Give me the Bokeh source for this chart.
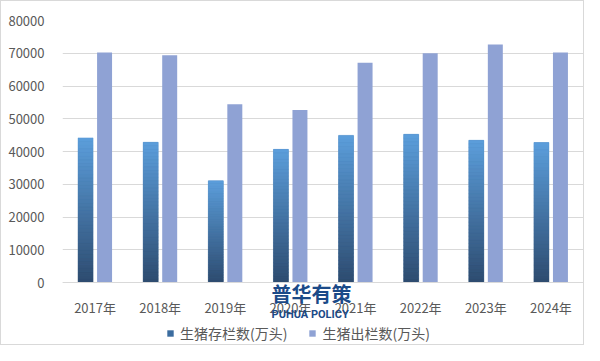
from bokeh.plotting import figure
from bokeh.models import (ColumnDataSource, Legend, LegendItem, Label, FactorRange, Range1d,
                          NumeralTickFormatter, FixedTicker)
from bokeh.transform import dodge
from bokeh.embed import file_html
from bokeh.resources import INLINE

years = ["2017年", "2018年", "2019年", "2020年", "2021年", "2022年", "2023年", "2024年"]
stock = [44159, 42817, 31041, 40650, 44922, 45256, 43422, 42743]      # 生猪存栏数(万头)
slaughter = [70202, 69382, 54419, 52704, 67128, 69995, 72662, 70256]  # 生猪出栏数(万头)
series_names = ["生猪存栏数(万头)", "生猪出栏数(万头)"]
y_ticks = [0, 10000, 20000, 30000, 40000, 50000, 60000, 70000, 80000]
watermark = ["普华有策", "PUHUA POLICY"]

FONT = "Noto Sans CJK SC"
TXT = "#595959"
GRID = "#d9d9d9"
TOP_C = (91, 157, 218)
BOT_C = (46, 76, 112)
LAV = "#8fa2d4"
WM_C = "#1b4a88"

W_PX, H_PX = 584, 345
TOP_B, LEFT_B, RIGHT_B = 19, 61, 2
plot_h = H_PX - TOP_B            # frame extends to canvas bottom
zero_px = 281 - TOP_B            # pixel distance from frame top to zero line
ymax = 80000
ymin = -ymax * (plot_h - zero_px) / zero_px

p = figure(width=W_PX, height=H_PX, x_range=FactorRange(*years), y_range=Range1d(ymin, ymax),
           output_backend="svg", toolbar_location=None,
           min_border_left=LEFT_B, min_border_right=RIGHT_B, min_border_top=TOP_B, min_border_bottom=0)
p.styles = {"border": "1px solid #d9d9d9"}
p.outline_line_color = None
p.background_fill_color = "white"
p.border_fill_color = "white"

W = 0.23
OFF = 0.146

src = ColumnDataSource(dict(x=years, stock=stock, slaughter=slaughter))
r_stock = p.vbar(x=dodge("x", -OFF, range=p.x_range), top="stock", width=W, source=src,
                 fill_color="#3b6c9f", line_color=None)

# gradient slices for the stock bars
N = 40
xs, bots, tops, cols = [], [], [], []
for i in range(N):
    t = i / (N - 1)
    c = tuple(int(round(BOT_C[k] + (TOP_C[k] - BOT_C[k]) * t)) for k in range(3))
    hexc = "#%02x%02x%02x" % c
    for y, v in zip(years, stock):
        xs.append(y)
        bots.append(v * i / N)
        tops.append(v * (i + 1) / N)
        cols.append(hexc)
gsrc = ColumnDataSource(dict(x=xs, bottom=bots, top=tops, color=cols))
p.vbar(x=dodge("x", -OFF, range=p.x_range), bottom="bottom", top="top", width=W,
       source=gsrc, fill_color="color", line_color="color", line_width=0.5)

r_sl = p.vbar(x=dodge("x", OFF, range=p.x_range), top="slaughter", width=W, source=src,
              fill_color=LAV, line_color=None)

# axes
p.yaxis.ticker = FixedTicker(ticks=y_ticks)
p.yaxis.formatter = NumeralTickFormatter(format="0")
p.yaxis.axis_line_color = None
p.yaxis.major_tick_line_color = None
p.yaxis.minor_tick_line_color = None
p.yaxis.major_label_standoff = 12
p.yaxis.major_label_text_font = FONT
p.yaxis.major_label_text_font_size = "13px"
p.yaxis.major_label_text_color = TXT

p.xaxis.fixed_location = 0
p.xaxis.axis_line_color = GRID
p.xaxis.major_tick_line_color = None
p.xaxis.minor_tick_line_color = None
p.xaxis.major_label_standoff = 9
p.xaxis.major_label_text_font = FONT
p.xaxis.major_label_text_font_size = "13px"
p.xaxis.major_label_text_color = TXT

p.xgrid.grid_line_color = None
p.ygrid.ticker = FixedTicker(ticks=y_ticks)
p.ygrid.grid_line_color = GRID
p.ygrid.grid_line_width = 1

legend = Legend(items=[LegendItem(label=series_names[0], renderers=[r_stock]),
                       LegendItem(label=series_names[1], renderers=[r_sl])],
                orientation="horizontal", location=(104, 3),
                glyph_width=8, glyph_height=8, label_standoff=6, spacing=21,
                padding=0, margin=0, border_line_color=None, background_fill_alpha=0,
                label_text_font=FONT, label_text_font_size="14px", label_text_color=TXT,
                label_height=16)
p.add_layout(legend, "center")

# watermark
wm1 = Label(x=3.21, y=-3300, text=watermark[0], text_font=FONT, text_font_size="20px",
            text_font_style="bold", text_color=WM_C, text_align="left", text_baseline="middle")
wm2 = Label(x=3.21, y=-9900, text=watermark[1], text_font="Roboto", text_font_size="11px",
            text_font_style="bold", text_color=WM_C, text_align="left", text_baseline="middle")
p.add_layout(wm1)
p.add_layout(wm2)

open("out.html", "w").write(file_html(p, INLINE))
